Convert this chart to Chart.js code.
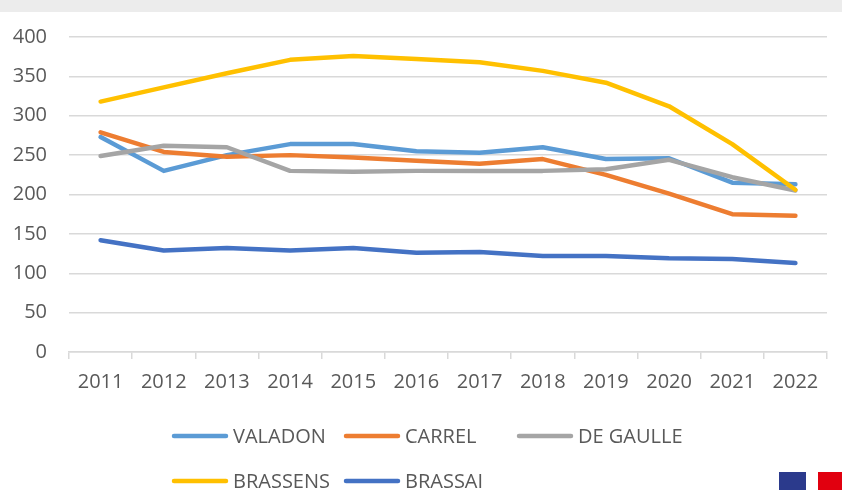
<!DOCTYPE html>
<html>
<head>
<meta charset="utf-8">
<script src="https://cdn.jsdelivr.net/npm/chart.js@4.4.1/dist/chart.umd.min.js"></script>
<style>
  html, body { margin: 0; padding: 0; background: #ffffff; width: 842px; height: 490px; overflow: hidden; }
  #band { position: absolute; left: 0; top: 0; width: 842px; height: 12px; background: #ececec; }
  #c { position: absolute; left: 0; top: 0; }
  .flagB { position: absolute; left: 779px; top: 472px; width: 27px; height: 18px; background: #2b3a8c; }
  .flagR { position: absolute; left: 818px; top: 472px; width: 24px; height: 18px; background: #e1000f; }
</style>
</head>
<body>
<div id="band"></div>
<canvas id="c" width="842" height="490"></canvas>
<div class="flagB"></div>
<div class="flagR"></div>
<script>
const years = ["2011","2012","2013","2014","2015","2016","2017","2018","2019","2020","2021","2022"];
const seriesNames = ["VALADON", "CARREL", "DE GAULLE", "BRASSENS", "BRASSAI"];
const valadon  = [273, 230, 250, 264, 264, 255, 253, 260, 245, 246, 215, 213];
const carrel   = [279, 254, 248, 250, 247, 243, 239, 245, 225, 201, 175, 173];
const deGaulle = [249, 262, 260, 230, 229, 230, 230, 230, 232, 244, 222, 205];
const brassens = [318, 336, 354, 371, 376, 372, 368, 357, 342, 312, 264, 206];
const brassai  = [142, 129, 132, 129, 132, 126, 127, 122, 122, 119, 118, 113];
const yTicks = [0, 50, 100, 150, 200, 250, 300, 350, 400];

const colors = ["#5B9BD5", "#ED7D31", "#A5A5A5", "#FFC000", "#4472C4"];
const allValues = [valadon, carrel, deGaulle, brassens, brassai];

const FONT = "'Open Sans', sans-serif";
const TEXT = "#595959";

const datasets = seriesNames.map((name, i) => ({
  label: name,
  data: allValues[i],
  borderColor: colors[i],
  backgroundColor: colors[i],
  borderWidth: 4.5,
  pointRadius: 0,
  pointHoverRadius: 0,
  tension: 0,
  borderCapStyle: 'round',
  borderJoinStyle: 'round',
  fill: false,
  order: seriesNames.length - i
}));

const customLegend = {
  id: 'customLegend',
  afterDraw(chart) {
    const ctx = chart.ctx;
    const cols = [172, 344, 517];
    const rows = [436, 481];
    const lineLen = 56;
    const textGap = 61;
    ctx.save();
    ctx.font = "20px " + FONT;
    ctx.textBaseline = 'middle';
    ctx.textAlign = 'left';
    chart.data.datasets.forEach((ds, i) => {
      const x = cols[i % 3];
      const y = rows[Math.floor(i / 3)];
      ctx.strokeStyle = ds.borderColor;
      ctx.lineWidth = 4.5;
      ctx.lineCap = 'round';
      ctx.beginPath();
      ctx.moveTo(x + 2, y);
      ctx.lineTo(x + lineLen - 2, y);
      ctx.stroke();
      ctx.fillStyle = TEXT;
      ctx.fillText(ds.label, x + textGap, y + 1);
    });
    ctx.restore();
  }
};

new Chart(document.getElementById('c'), {
  type: 'line',
  data: { labels: years, datasets: datasets },
  options: {
    responsive: false,
    animation: false,
    layout: { padding: { top: 37, right: 15, left: 0, bottom: 0 } },
    plugins: {
      legend: { display: false },
      tooltip: { enabled: false },
      title: { display: false }
    },
    scales: {
      x: {
        offset: true,
        grid: { display: true, drawOnChartArea: false, offset: true, drawTicks: true, tickLength: 7, color: '#d9d9d9', lineWidth: 1.5 },
        border: { display: true, color: '#d9d9d9', width: 1.5 },
        ticks: { color: TEXT, font: { family: FONT, size: 20 }, padding: 11, maxRotation: 0, autoSkip: false },
        afterFit(s) { s.height = 138; }
      },
      y: {
        min: 0,
        max: 400,
        afterBuildTicks(s) { s.ticks = yTicks.map(v => ({ value: v })); },
        grid: { color: '#d9d9d9', lineWidth: 1.5, drawTicks: false },
        border: { display: false },
        ticks: { color: TEXT, font: { family: FONT, size: 20 }, padding: 22 },
        afterFit(s) { s.width = 69; }
      }
    }
  },
  plugins: [customLegend]
});
</script>
</body>
</html>
